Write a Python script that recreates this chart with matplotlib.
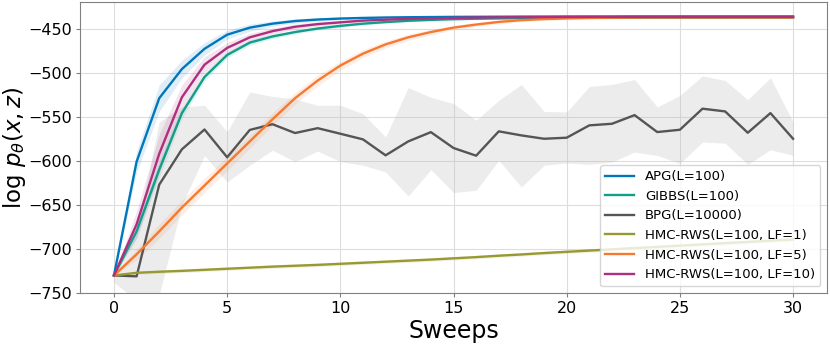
import numpy as np
import matplotlib
matplotlib.use('Agg')
import matplotlib.pyplot as plt

# sweeps 0..30
sweeps = np.arange(31)

apg = [-730, -601, -529, -496, -473, -457, -449, -444.5, -441.5, -439.8, -438.7,
       -438, -437.5, -437.2, -437, -436.8, -436.7, -436.6, -436.5, -436.5, -436.4,
       -436.4, -436.4, -436.3, -436.3, -436.3, -436.3, -436.3, -436.3, -436.3, -436.3]
apg_std = [0, 12, 15, 10, 7, 5, 4, 3, 2.5, 2, 1.6, 1.4, 1.2, 1.1, 1, 1, 1, 1, 1, 1, 1,
           1, 1, 1, 1, 1, 1, 1, 1, 1, 1]

gibbs = [-730, -680, -610, -546, -505, -480, -466, -459, -454, -450, -447,
         -444.5, -442.7, -441.2, -440.2, -439.4, -438.9, -438.5, -438.2, -438, -437.9,
         -437.8, -437.7, -437.7, -437.6, -437.6, -437.6, -437.6, -437.5, -437.5, -437.5]
gibbs_std = [0, 8, 9, 6, 4.5, 3.5, 3, 2.5, 2, 1.8, 1.6, 1.4, 1.3, 1.2, 1.1, 1, 1, 1, 1, 1, 1,
             1, 1, 1, 1, 1, 1, 1, 1, 1, 1]

bpg = [-730, -731, -627, -587, -564.5, -596, -565, -558.5, -568.5, -563, -569.3,
       -575.7, -593.8, -578, -567.5, -585.5, -594.2, -566.6, -571.2, -575, -573.8,
       -559.8, -558, -548.2, -567.4, -564.8, -540.9, -544, -568.2, -545.9, -575]
bpg_lo = [-738, -758, -752, -650, -594, -624, -605, -588, -601, -589, -601,
          -605, -612.7, -640, -610, -636, -633.5, -599.5, -629.7, -605, -602.5,
          -604, -601.4, -590, -594, -603, -578.7, -580, -604, -587.4, -593.8]
bpg_hi = [-724, -680, -556, -539, -537, -567, -522, -527, -530, -537, -537,
          -546.6, -573, -517, -528, -535, -554, -531.5, -513.4, -544, -544.7,
          -515.7, -513.4, -507.8, -539, -525.9, -503.6, -508.9, -530.7, -505.9, -556]

hmc_lf1 = [-730, -727, -725.8, -724.8, -723.6, -722.4, -721.2, -720, -719, -718, -716.8,
           -715.6, -714.4, -713.2, -712, -710.6, -709.2, -707.6, -706.2, -704.6, -703.2,
           -701.8, -700.4, -699, -697.6, -696.2, -694.8, -693.4, -692, -690.6, -689.2]
hmc_lf1_std = [0, 1.5, 2, 2, 2, 2, 2, 2, 2, 2, 2, 2, 2, 2, 2, 2, 2, 2, 2, 2, 2,
               2, 2, 2, 2, 2, 2, 2, 2, 2, 2]

hmc_lf5 = [-730, -706, -680, -653, -628, -603, -578, -553, -529, -509, -492,
           -478.5, -468, -460, -454, -449, -445.5, -442.5, -440.5, -439.3, -438.5,
           -438, -437.7, -437.6, -437.5, -437.5, -437.5, -437.5, -437.5, -437.5, -437.5]
hmc_lf5_std = [0, 6, 8, 8, 8, 8, 7.5, 7, 6.5, 6, 5, 4.5, 4, 3.5, 3, 2.5, 2.2, 2, 1.8, 1.6, 1.5,
               1.4, 1.3, 1.2, 1.2, 1.2, 1.2, 1.2, 1.2, 1.2, 1.2]

hmc_lf10 = [-730, -672, -592, -528, -491, -472, -460, -453, -448, -445, -443,
            -441, -440, -439, -438.5, -438, -437.6, -437.3, -437.1, -437, -436.9,
            -436.8, -436.8, -436.8, -436.8, -436.8, -436.8, -436.8, -436.8, -436.8, -436.8]
hmc_lf10_std = [0, 15, 22, 14, 9, 6, 4.5, 3.5, 3, 2.5, 2, 1.8, 1.6, 1.4, 1.3, 1.2, 1.2, 1.2, 1.2,
                1.2, 1.2, 1.2, 1.2, 1.2, 1.2, 1.2, 1.2, 1.2, 1.2, 1.2, 1.2]

labels = ['APG(L=100)', 'GIBBS(L=100)', 'BPG(L=10000)',
          'HMC-RWS(L=100, LF=1)', 'HMC-RWS(L=100, LF=5)', 'HMC-RWS(L=100, LF=10)']
colors = ['#0077BB', '#119E8A', '#555555', '#999933', '#F57A30', '#AE2F7E']

fig = plt.figure(figsize=(8.3, 3.44), dpi=100)
ax = fig.add_axes([0.0964, 0.148, 0.90, 0.846])

series = [(apg, apg_std), (gibbs, gibbs_std), None,
          (hmc_lf1, hmc_lf1_std), (hmc_lf5, hmc_lf5_std), (hmc_lf10, hmc_lf10_std)]

for i, (lab, col) in enumerate(zip(labels, colors)):
    if series[i] is None:
        ax.fill_between(sweeps, bpg_lo, bpg_hi, color='#bbbbbb', alpha=0.27, lw=0)
        ax.plot(sweeps, bpg, color=col, lw=1.7, label=lab)
    else:
        m, s = np.array(series[i][0]), np.array(series[i][1])
        ax.fill_between(sweeps, m - s, m + s, color=col, alpha=0.13, lw=0)
        ax.plot(sweeps, m, color=col, lw=1.7, label=lab)

ax.set_xlim(-1.5, 31.5)
ax.set_ylim(-750, -420)
ax.set_xticks([0, 5, 10, 15, 20, 25, 30])
ax.set_yticks([-750, -700, -650, -600, -550, -500, -450])
ax.grid(True, color='#dddddd', lw=0.8)
ax.set_axisbelow(True)
for sp in ax.spines.values():
    sp.set_color('#808080')
ax.tick_params(labelsize=11.5, color='#808080', length=3, pad=3)

ax.set_xlabel('Sweeps', fontsize=17, labelpad=2)
ax.set_ylabel(r'$\log\, p_\theta(x, z)$', fontsize=16.5, labelpad=0)

ax.legend(loc='lower right', fontsize=9.5, handlelength=2.2)

fig.savefig('out.png', dpi=100)
